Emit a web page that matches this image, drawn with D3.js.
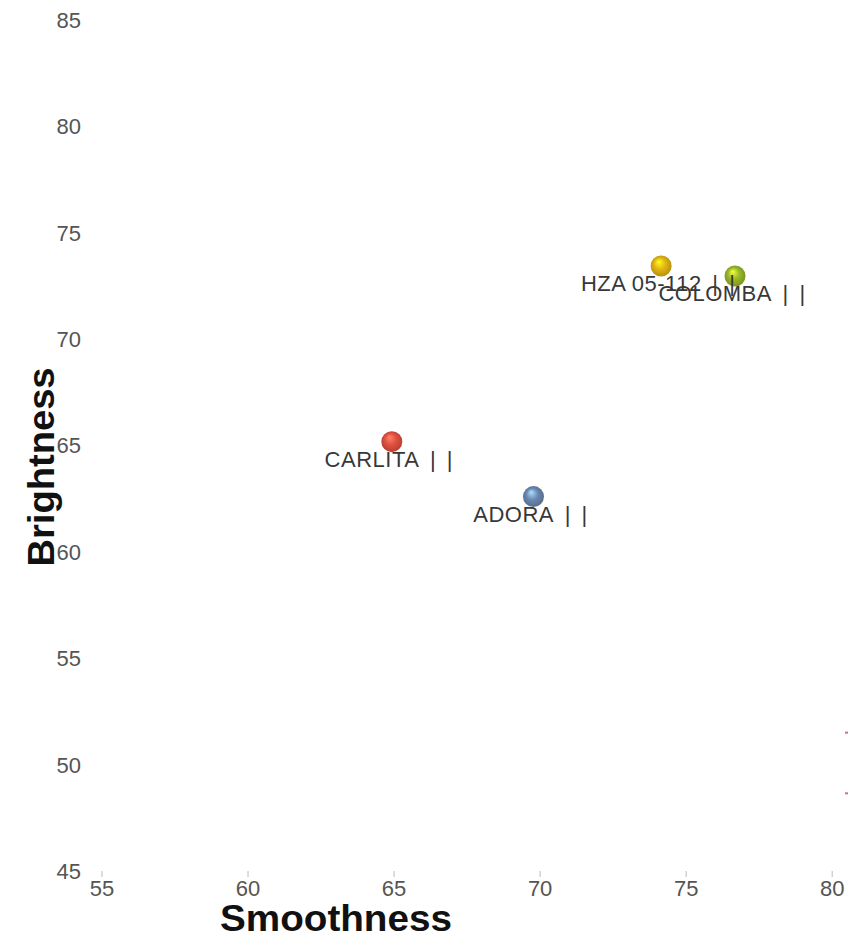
<!DOCTYPE html>
<html>
<head>
<meta charset="utf-8">
<script src="https://cdn.jsdelivr.net/npm/d3@7"></script>
<style>
  html, body { margin: 0; padding: 0; background: #fff; }
  svg { display: block; }
</style>
</head>
<body>
<div id="chart"></div>
<script>
// ---- data ----
const names = ["CARLITA | |", "ADORA | |", "HZA 05-112 | |", "COLOMBA | |"];
const smoothness = [64.94, 69.79, 74.16, 76.69];
const brightness = [65.17, 62.59, 73.42, 72.95];
const colors = ["#e0503f", "#6a88b0", "#e2b512", "#98b828"];
const xTicks = [55, 60, 65, 70, 75, 80];
const yTicks = [45, 50, 55, 60, 65, 70, 75, 80, 85];
const edgeMarkY = [51.5, 48.65];   // clipped red marks at the right edge

const W = 848, H = 936;
const svg = d3.select("#chart").append("svg").attr("width", W).attr("height", H);
svg.append("rect").attr("width", W).attr("height", H).attr("fill", "#fff");

const x = d3.scaleLinear().domain([55, 80]).range([101.5, 831.7]);
const y = d3.scaleLinear().domain([45, 85]).range([871, 19.5]);

const defs = svg.append("defs");
colors.forEach((c, i) => {
  const base = d3.color(c);
  const g = defs.append("radialGradient").attr("id", "ball" + i)
    .attr("cx", "50%").attr("cy", "50%").attr("r", "55%")
    .attr("fx", "38%").attr("fy", "28%");
  g.append("stop").attr("offset", "0%").attr("stop-color", base.brighter(1.4));
  g.append("stop").attr("offset", "50%").attr("stop-color", base);
  g.append("stop").attr("offset", "100%").attr("stop-color", base.darker(0.7));
});

const font = "'Liberation Sans', Arial, sans-serif";

// x axis: tick marks + labels
const xAxis = d3.axisBottom(x).tickValues(xTicks).tickSize(6).tickPadding(4);
const gx = svg.append("g").attr("transform", "translate(0,871)").call(xAxis);
gx.select(".domain").remove();
gx.selectAll(".tick line").attr("stroke", "#bbb");
gx.selectAll(".tick text").attr("fill", "#555").attr("font-family", font).attr("font-size", 22)
  .attr("y", 25).attr("dy", 0);

// y axis: labels only
const yAxis = d3.axisLeft(y).tickValues(yTicks).tickSize(0).tickPadding(0);
const gy = svg.append("g").attr("transform", "translate(81,0)").call(yAxis);
gy.select(".domain").remove();
gy.selectAll(".tick line").remove();
gy.selectAll(".tick text").attr("fill", "#555").attr("font-family", font).attr("font-size", 22)
  .attr("dy", "0.35em");

// edge marks
svg.append("g").selectAll("line").data(edgeMarkY).join("line")
  .attr("x1", 845).attr("x2", W).attr("y1", d => y(d)).attr("y2", d => y(d))
  .attr("stroke", "#e06a7a").attr("stroke-width", 2);

// axis titles
svg.append("text").text("Smoothness")
  .attr("x", 336).attr("y", 931).attr("text-anchor", "middle")
  .attr("font-family", font).attr("font-weight", "bold").attr("font-size", 36)
  .attr("textLength", 232).attr("lengthAdjust", "spacingAndGlyphs")
  .attr("fill", "#111");
svg.append("text").text("Brightness")
  .attr("transform", "translate(54,467) rotate(-90)").attr("text-anchor", "middle")
  .attr("font-family", font).attr("font-weight", "bold").attr("font-size", 36)
  .attr("textLength", 199).attr("lengthAdjust", "spacingAndGlyphs")
  .attr("fill", "#111");

// points
const idx = d3.range(names.length);
svg.append("g").selectAll("circle").data(idx).join("circle")
  .attr("cx", i => x(smoothness[i])).attr("cy", i => y(brightness[i]))
  .attr("r", 10.5).attr("fill", i => `url(#ball${i})`);

// labels: name part + trailing bars with wider spacing
const labels = svg.append("g").selectAll("text").data(idx).join("text")
  .attr("x", i => x(smoothness[i]) - 3).attr("y", i => y(brightness[i]) + 25)
  .attr("text-anchor", "middle")
  .attr("font-family", font).attr("font-size", 22).attr("fill", "#383838")
  .attr("letter-spacing", 0.5);
labels.append("tspan").text(i => names[i].replace(/ \| \|$/, ""));
labels.append("tspan").attr("word-spacing", 4).text(i => names[i].match(/ \| \|$/) ? " | |" : "");
</script>
</body>
</html>
